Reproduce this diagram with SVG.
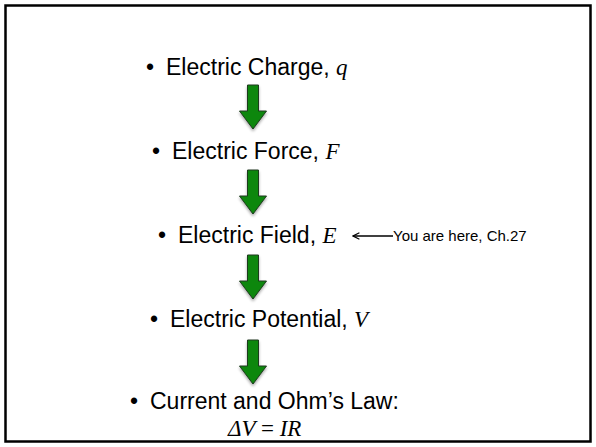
<svg xmlns="http://www.w3.org/2000/svg" width="596" height="447" viewBox="0 0 596 447">
  <style>
    .t { font-family: "Liberation Sans", Arial, sans-serif; font-size: 23px; fill: #000; }
    .m { font-family: "Liberation Serif", "Times New Roman", serif; font-style: italic; font-size: 23px; }
    .u { font-style: normal; }
    .s { font-family: "Liberation Sans", Arial, sans-serif; font-size: 15px; fill: #000; }
    .arr { fill: #0a870a; stroke: #1e3a1e; stroke-width: 1; }
  </style>
  <defs>
    <filter id="sh" x="-30%" y="-30%" width="160%" height="160%">
      <feGaussianBlur in="SourceAlpha" stdDeviation="1.5"/>
      <feOffset dx="0" dy="2" result="b"/>
      <feComponentTransfer><feFuncA type="linear" slope="0.35"/></feComponentTransfer>
      <feMerge><feMergeNode/><feMergeNode in="SourceGraphic"/></feMerge>
    </filter>
    <path id="blk" d="M -5.5 0 H 5.5 V 26 H 13.5 L 0 44 L -13.5 26 H -5.5 Z"/>
    <marker id="ah" viewBox="0 0 10 10" refX="9" refY="5" markerWidth="8" markerHeight="8" markerUnits="userSpaceOnUse" orient="auto">
      <path d="M 1 1 L 9 5 L 1 9" fill="none" stroke="#000" stroke-width="1.5"/>
    </marker>
  </defs>
  <rect x="5.5" y="5.5" width="585" height="436" fill="#fff" stroke="#000" stroke-width="2.5"/>

  <g id="charge"><text class="t" x="146" y="75">•</text><text class="t" x="166" y="75">Electric Charge, <tspan class="m">q</tspan></text></g>
  <g id="force"><text class="t" x="152" y="159">•</text><text class="t" x="172" y="159">Electric Force, <tspan class="m">F</tspan></text></g>
  <g id="field"><text class="t" x="158" y="243">•</text><text class="t" x="178" y="243">Electric Field, <tspan class="m">E</tspan></text></g>
  <g id="potential"><text class="t" x="150" y="327">•</text><text class="t" x="170" y="327">Electric Potential, <tspan class="m">V</tspan></text></g>
  <g id="current"><text class="t" x="130" y="409">•</text><text class="t" x="150" y="409">Current and Ohm’s Law:</text>
    <text class="m" x="228" y="436">ΔV <tspan class="u">=</tspan> IR</text></g>
  <g id="note"><text class="s" x="393" y="241">You are here, Ch.27</text></g>

  <g id="connectors">
    <use href="#blk" class="arr" x="253" y="85" filter="url(#sh)"/>
    <use href="#blk" class="arr" x="253" y="170" filter="url(#sh)"/>
    <use href="#blk" class="arr" x="253" y="255" filter="url(#sh)"/>
    <use href="#blk" class="arr" x="253" y="340" filter="url(#sh)"/>
    <line x1="393" y1="236" x2="353" y2="236" stroke="#000" stroke-width="1.5" marker-end="url(#ah)"/>
  </g>
</svg>
